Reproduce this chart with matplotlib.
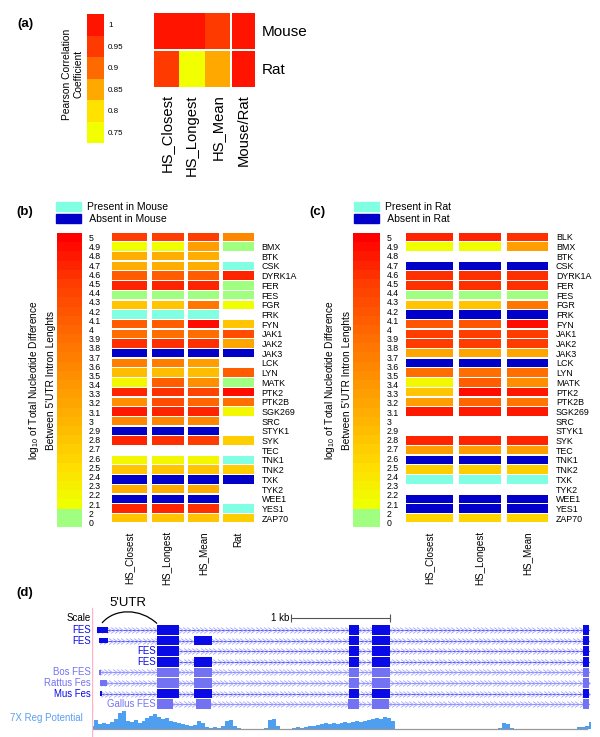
import numpy as np
import matplotlib
matplotlib.use("Agg")
import matplotlib.pyplot as plt
from matplotlib.colors import LinearSegmentedColormap, ListedColormap, BoundaryNorm, Normalize
from matplotlib.patches import Patch, PathPatch
from matplotlib.path import Path

plt.rcParams["font.family"] = ["Liberation Sans", "DejaVu Sans"]
plt.rcParams["mathtext.fontset"] = "custom"
plt.rcParams["mathtext.rm"] = "Liberation Sans"
plt.rcParams["mathtext.it"] = "Liberation Sans:italic"

# ------------------------------------------------------------------
# Data
# ------------------------------------------------------------------
# (a) Pearson correlation
corr_cols = ["HS_Closest", "HS_Longest", "HS_Mean", "Mouse/Rat"]
corr_rows = ["Mouse", "Rat"]
corr_mouse = [0.99, 0.99, 0.95, 1.00]
corr_rat = [0.95, 0.76, 0.85, 1.00]
corr_scale = [1.0, 0.95, 0.9, 0.85, 0.8, 0.75]

# (b), (c) log10 total nucleotide difference; G = 0-2 bin, P = present, A = absent
G, P, A, N = 1.0, -1.0, -2.0, np.nan
genes = ["BLK", "BMX", "BTK", "CSK", "DYRK1A", "FER", "FES", "FGR", "FRK", "FYN",
         "JAK1", "JAK2", "JAK3", "LCK", "LYN", "MATK", "PTK2", "PTK2B", "SGK269", "SRC",
         "STYK1", "SYK", "TEC", "TNK1", "TNK2", "TXK", "TYK2", "WEE1", "YES1", "ZAP70"]
genes_b = [""] + genes[1:]  # BLK label missing in panel (b)
diff_scale = [5, 4.9, 4.8, 4.7, 4.6, 4.5, 4.4, 4.3, 4.2, 4.1, 4, 3.9, 3.8, 3.7, 3.6, 3.5,
              3.4, 3.3, 3.2, 3.1, 3, 2.9, 2.8, 2.7, 2.6, 2.5, 2.4, 2.3, 2.2, 2.1, 2, 0]

mouse_cols = ["HS_Closest", "HS_Longest", "HS_Mean", "Rat"]
mouse_hs_closest = [4.5, 2.1, 3.1, 3.1, 4.1, 4.7, G, 2.8, P, 4.1, 3.9, 4.6, A, 3.7, 2.9,
                    2.2, 4.7, 3.5, 4.8, 3.6, A, 4.7, N, 2.2, 2.8, A, 3.1, A, 4.7, 2.8]
mouse_hs_longest = [4.5, 2.1, 3.1, 3.1, 4.1, 4.7, G, 2.8, P, 4.1, 3.9, 4.6, A, 3.7, 2.9,
                    4.1, 4.6, 4.3, 4.7, 3.6, A, 4.6, N, 2.2, 2.8, A, 3.1, A, 4.7, 2.8]
mouse_hs_mean = [4.5, 3.3, 3.1, 3.1, 4.1, 4.7, G, 3.8, P, 4.9, 3.9, 4.6, A, 3.3, 2.9,
                 3.5, 4.4, 4.0, 4.7, 3.6, A, 4.5, N, 2.2, 2.8, A, 3.1, A, 4.6, 2.8]
mouse_rat = [3.6, G, N, P, 4.7, G, G, 2.1, N, 2.8, 4.3, 3.2, A, N, 4.1,
             G, 4.9, 3.9, 2.2, N, N, 2.7, N, P, 2.7, A, N, N, P, 2.7]

rat_cols = ["HS_Closest", "HS_Longest", "HS_Mean"]
rat_hs_closest = [4.7, 2.1, N, A, 4.6, 4.6, G, 2.8, A, 4.2, 4.5, 4.5, 3.2, A, 3.9,
                  2.2, 2.8, 3.3, 4.8, N, N, 4.7, 3.3, A, 2.7, P, N, A, A, 2.6]
rat_hs_longest = [4.7, 2.1, N, A, 4.6, 4.6, G, 2.8, A, 4.2, 4.5, 4.5, 3.2, A, 3.9,
                  4.1, 4.9, 4.0, 4.8, N, N, 4.7, 3.3, A, 2.7, P, N, A, A, 2.6]
rat_hs_mean = [4.6, 3.3, N, A, 4.6, 4.6, G, 3.8, A, 4.9, 4.5, 4.5, 3.2, A, 3.9,
               3.5, 4.8, 3.8, 4.8, N, N, 4.7, 3.3, A, 2.7, P, N, A, A, 2.6]

# (d) FES locus, positions in bp from the left edge of the browser window
track_names = ["FES", "FES", "FES", "FES", "Bos FES", "Rattus Fes", "Mus Fes", "Gallus FES"]
track_dark = [True, True, True, True, False, False, True, False]
track_utr = [(51, 162), (71, 162), None, None, (70, 92), (80, 152), (80, 96), None]
track_exons = [
    [(657, 879), (2596, 2697), (2828, 3010), (4960, 5020)],
    [(657, 879), (1030, 1212), (2596, 2697), (2828, 3010), (4960, 5020)],
    [(657, 879), (2596, 2697), (2828, 3010), (4960, 5020)],
    [(657, 879), (1030, 1212), (2596, 2697), (2828, 3010), (4960, 5020)],
    [(657, 879), (1030, 1212), (2596, 2697), (2828, 3010), (4960, 5020)],
    [(657, 879), (1030, 1212), (2596, 2697), (2828, 3010), (4960, 5020)],
    [(657, 879), (1030, 1212), (2596, 2697), (2828, 3010), (4960, 5020)],
    [(657, 818), (1050, 1200), (2586, 2697), (2828, 3000), (4960, 5020)],
]
scale_bar_bp = (2010, 3010)
utr_span_bp = (101, 657)
reg_step_bp = 40
reg_height = [3, 9, 5, 6, 5, 7, 10, 16, 18, 8,
              7, 9, 6, 8, 11, 13, 15, 12, 10, 11,
              8, 7, 6, 5, 4, 3, 4, 8, 6, 2,
              1, 2, 1, 3, 8, 9, 3, 1, 0.5, 0.5,
              0.5, 0, 0.5, 0, 1, 9, 10, 3, 0.5, 0,
              0.5, 1, 2, 1, 2, 3, 3, 4, 5, 6,
              5, 6, 5, 6, 7, 6, 7, 8, 7, 8,
              9, 10, 11, 10, 12, 11, 8, 0.5, 0, 0,
              0, 0, 0, 0, 0, 0, 0, 0, 0, 0,
              0, 0, 0, 0, 0, 0, 0, 0, 0, 0,
              0, 0, 0, 1, 6, 5, 1, 0, 0, 0,
              0, 0, 0, 0, 0, 0, 0, 0, 0, 0,
              0, 0, 0.5, 2, 2, 3, 7]

# ------------------------------------------------------------------
# Styles
# ------------------------------------------------------------------
W, H = 600, 737
CYAN = "#80ffe2"
BLUE = "#0000c8"
GREEN = "#a0ff80"
diff_cmap = LinearSegmentedColormap.from_list(
    "diff", [(0.0, "#f0ff00"), (0.14, "#ffdd00"), (0.31, "#ffb400"), (0.48, "#ff9000"),
             (0.66, "#ff6400"), (0.83, "#ff3c00"), (1.0, "#ff0000")])
diff_norm = Normalize(2.1, 5.0)
corr_cmap = ListedColormap(["#f2ff00", "#ffe200", "#ffa800", "#ff6a00", "#ff3a00", "#ff1400"])
corr_norm = BoundaryNorm([0.725, 0.775, 0.825, 0.875, 0.925, 0.975, 1.025], corr_cmap.N)
FES_DARK = "#0a0ae6"
FES_LIGHT = "#7272f2"


def px_axes(fig, x0, y0, x1, y1):
    ax = fig.add_axes([x0 / W, 1 - y1 / H, (x1 - x0) / W, (y1 - y0) / H])
    for s in ax.spines.values():
        s.set_visible(False)
    ax.patch.set_alpha(0)
    return ax


def ftext(fig, x, y, s, **kw):
    return fig.text(x / W, 1 - y / H, s, **kw)


def cell_color(v):
    if v == P:
        return CYAN
    if v == A:
        return BLUE
    if v < 2.05:
        return GREEN
    return diff_cmap(diff_norm(v))


def diff_colorbar(fig, x0, x1):
    ax = px_axes(fig, x0, 233, x1, 527)
    ax.barh(np.arange(len(diff_scale)), 1, height=1.0,
            color=[cell_color(v) for v in diff_scale])
    ax.set_xlim(0, 1)
    ax.set_ylim(len(diff_scale) - 0.5, -0.5)
    ax.set_xticks([])
    ax.yaxis.tick_right()
    ax.set_yticks(np.arange(len(diff_scale)))
    ax.set_yticklabels([f"{v:g}" for v in diff_scale], fontsize=6.3)
    ax.tick_params(axis="y", length=0, pad=5)
    ftext(fig, x0 - 23, 380, "log$_{10}$ of Total Nucleotide Difference",
          rotation=90, ha="center", va="center", fontsize=7.3)
    ftext(fig, x0 - 6, 380, "Between 5'UTR Intron Lenghts",
          rotation=90, ha="center", va="center", fontsize=7.3)
    return ax


def diff_heatmap(fig, x0, x1, columns, col_labels, col_left, col_width, row_labels):
    ax = px_axes(fig, x0, 232, x1, 523)
    for vals, left, width in zip(columns, col_left, col_width):
        rows = [i for i, v in enumerate(vals) if not np.isnan(v)]
        ax.barh(rows, width, left=left, height=0.86,
                color=[cell_color(vals[i]) for i in rows])
    ax.set_xlim(0, x1 - x0)
    ax.set_ylim(len(row_labels) - 0.5, -0.5)
    ax.yaxis.tick_right()
    ax.set_yticks(np.arange(len(row_labels)))
    ax.set_yticklabels(row_labels, fontsize=6.4)
    ax.set_xticks([l + w / 2 for l, w in zip(col_left, col_width)])
    ax.set_xticklabels(col_labels, rotation=90, fontsize=7.1)
    ax.tick_params(axis="y", length=0, pad=5.5)
    ax.tick_params(axis="x", length=0, pad=6)
    return ax


def diff_legend(fig, x, y, species):
    handles = [Patch(color=CYAN), Patch(color=BLUE)]
    fig.legend(handles, [f"Present in {species}", f" Absent in {species}"],
               loc="upper left", bbox_to_anchor=(x / W, 1 - y / H), frameon=False,
               fontsize=7.5, handlelength=2.4, handleheight=0.85, handletextpad=0.6,
               labelspacing=0.2, borderpad=0, borderaxespad=0)


fig = plt.figure(figsize=(W / 100, H / 100), dpi=100)
fig.patch.set_facecolor("white")

# ------------------------------------------------------------------
# (a)
# ------------------------------------------------------------------
ftext(fig, 25, 24, "(a)", fontsize=9.5, fontweight="bold", ha="center", va="center")
ax = px_axes(fig, 87, 14, 104, 143)
ax.barh(np.arange(len(corr_scale)), 1, height=1.0,
        color=[corr_cmap(corr_norm(v)) for v in corr_scale])
ax.set_xlim(0, 1)
ax.set_ylim(len(corr_scale) - 0.5, -0.5)
ax.set_xticks([])
ax.yaxis.tick_right()
ax.set_yticks(np.arange(len(corr_scale)))
ax.set_yticklabels([f"{v:g}" for v in corr_scale], fontsize=5.8)
ax.tick_params(axis="y", length=0, pad=3)
ftext(fig, 67, 74, "Pearson Correlation", rotation=90, ha="center", va="center", fontsize=7.4)
ftext(fig, 79, 74, "Coefficient", rotation=90, ha="center", va="center", fontsize=7.4)

ax = px_axes(fig, 154, 12, 255, 88)
corr_left = [0, 25.3, 50.7, 78.3]
corr_width = [25.3, 25.3, 25.3, 22.7]
for r, vals in enumerate([corr_mouse, corr_rat]):
    ax.bar(corr_left, 0.95, width=corr_width, bottom=r - 0.475, align="edge",
           color=[corr_cmap(corr_norm(v)) for v in vals])
ax.set_xlim(0, 101)
ax.set_ylim(1.5, -0.5)
ax.yaxis.tick_right()
ax.set_yticks([0, 1])
ax.set_yticklabels(corr_rows, fontsize=11)
ax.set_xticks([l + w / 2 for l, w in zip(corr_left, corr_width)])
ax.set_xticklabels(corr_cols, rotation=90, fontsize=10.6)
ax.tick_params(axis="y", length=0, pad=5)
ax.tick_params(axis="x", length=0, pad=4.5)

# ------------------------------------------------------------------
# (b)
# ------------------------------------------------------------------
ftext(fig, 25, 212, "(b)", fontsize=9.5, fontweight="bold", ha="center", va="center")
diff_legend(fig, 56, 202, "Mouse")
diff_colorbar(fig, 57, 82)
diff_heatmap(fig, 112, 254,
             [mouse_hs_closest, mouse_hs_longest, mouse_hs_mean, mouse_rat], mouse_cols,
             [0, 39.7, 75.7, 111.3], [35.4, 32, 31.6, 30.7], genes_b)

# ------------------------------------------------------------------
# (c)
# ------------------------------------------------------------------
ftext(fig, 317, 212, "(c)", fontsize=9.5, fontweight="bold", ha="center", va="center")
diff_legend(fig, 354, 202, "Rat")
diff_colorbar(fig, 353, 380)
diff_heatmap(fig, 406, 548.3,
             [rat_hs_closest, rat_hs_longest, rat_hs_mean], rat_cols,
             [0, 53, 100.7], [47.3, 42, 41.6], genes)

# ------------------------------------------------------------------
# (d) genome browser view
# ------------------------------------------------------------------
ftext(fig, 25, 593, "(d)", fontsize=9.5, fontweight="bold", ha="center", va="center")
ROW_PX = 10.6
bx = px_axes(fig, 92, 596, 592, 712)
bx.set_xlim(0, 5050)
bx.set_ylim((712 - 630) / ROW_PX, (596 - 630) / ROW_PX)
bx.set_xticks([])
bx.set_yticks([])
bx.axvline(0, ymax=(712 - 608) / 116, color="#ffb3c6", lw=1)

chevron = Path([(-0.5, 0.6), (0.4, 0.0), (-0.5, -0.6)], [Path.MOVETO, Path.LINETO, Path.LINETO])
for r, (name, dark, utr, exons) in enumerate(zip(track_names, track_dark, track_utr, track_exons)):
    col = FES_DARK if dark else FES_LIGHT
    start = utr[0] if utr else exons[0][0]
    end = exons[-1][1]
    bx.plot([start, end], [r, r], color="#5c5cee" if dark else "#9090ff", lw=0.8, zorder=1)
    ch = np.arange(start + 30, end, 43)
    bx.plot(ch, np.full(len(ch), r), ls="none", marker=chevron, ms=4.2, mew=0.6,
            mfc="none", mec="#a4a4ff", zorder=1)
    if utr:
        bx.broken_barh([(utr[0], utr[1] - utr[0])], (r - 0.25, 0.5), facecolors=col, zorder=2)
        lx = -12
    else:
        lx = start - 15
    bx.broken_barh([(a, b - a) for a, b in exons], (r - 0.46, 0.92), facecolors=col, zorder=2)
    bx.text(lx, r, name, ha="right", va="center", fontsize=6.9, color=col, clip_on=False)

r_scale = (618 - 630) / ROW_PX
bx.plot(scale_bar_bp, [r_scale, r_scale], color="#555555", lw=0.8, marker="|", ms=6, mew=0.8)
bx.text(scale_bar_bp[0] - 20, r_scale, "1 kb", ha="right", va="center", fontsize=7)
bx.text(-15, r_scale, "Scale", ha="right", va="center", fontsize=7, clip_on=False)
y_lo = (623 - 630) / ROW_PX
y_hi = (608 - 630) / ROW_PX
arc = Path([(utr_span_bp[0], y_lo), (232, y_hi), (485, y_hi), (utr_span_bp[1], y_lo + 0.05)],
           [Path.MOVETO, Path.CURVE4, Path.CURVE4, Path.CURVE4])
bx.add_patch(PathPatch(arc, fill=False, lw=0.9, color="black", clip_on=False))
bx.text((utr_span_bp[0] + utr_span_bp[1]) / 2 - 15, (603 - 630) / ROW_PX, "5'UTR",
        ha="center", va="center", fontsize=9.5, clip_on=False)

rx = px_axes(fig, 92, 705, 592, 737)
reg_pos = np.arange(len(reg_height)) * reg_step_bp
rx.fill_between(reg_pos, 0, reg_height, step="mid", color="#4f9ff0", lw=0)
rx.plot([0, 5000], [0, 0], color="#999999", lw=0.9)
rx.axvline(0, color="#ffb3c6", lw=1)
rx.set_xlim(0, 5050)
rx.set_ylim(-8, 24)
rx.set_xticks([])
rx.set_yticks([])
rx.text(-830, 11, "7X Reg Potential", ha="left", va="center", fontsize=7,
        color="#5c9ef5", clip_on=False)

fig.savefig("out.png", dpi=100, facecolor="white")
